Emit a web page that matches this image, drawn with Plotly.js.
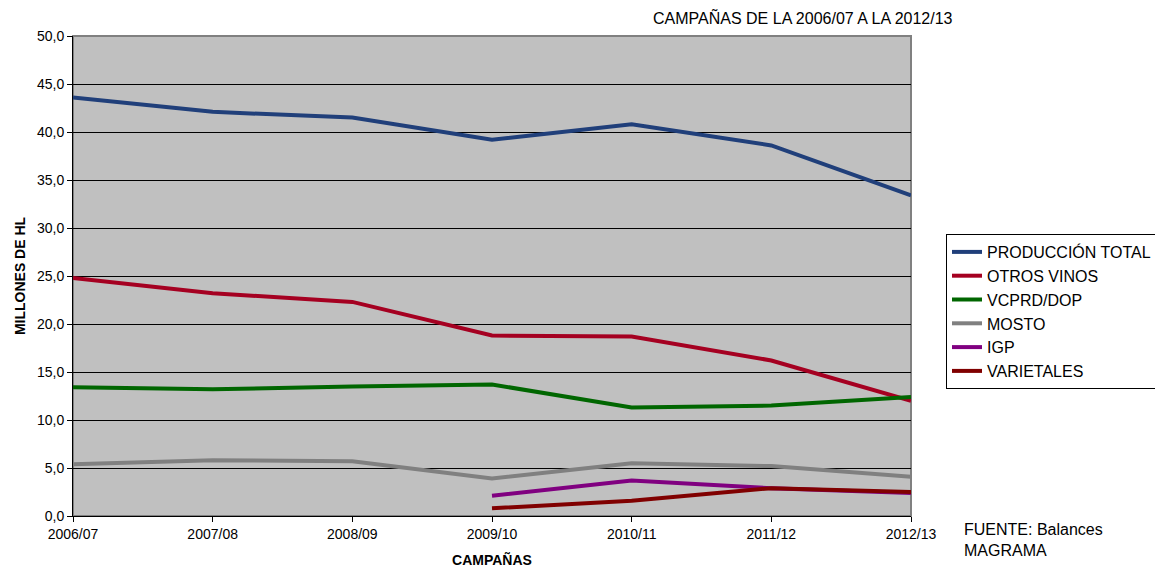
<!DOCTYPE html>
<html>
<head>
<meta charset="utf-8">
<script src="https://cdn.plot.ly/plotly-3.0.1.min.js"></script>
<style>html,body{margin:0;padding:0;background:#fff;}#chart{width:1155px;height:568px;}</style>
</head>
<body>
<div id="chart"></div>
<script>
const campaigns = ["2006/07","2007/08","2008/09","2009/10","2010/11","2011/12","2012/13"];
const produccionTotal = [43.6, 42.1, 41.5, 39.2, 40.8, 38.6, 33.4];
const otrosVinos = [24.8, 23.2, 22.3, 18.8, 18.7, 16.2, 12.0];
const vcprdDop = [13.4, 13.2, 13.5, 13.7, 11.3, 11.5, 12.4];
const mosto = [5.4, 5.8, 5.7, 3.9, 5.5, 5.2, 4.1];
const igp = [null, null, null, 2.1, 3.7, 2.9, 2.4];
const varietales = [null, null, null, 0.8, 1.6, 2.9, 2.5];

const seriesNames = ["PRODUCCIÓN TOTAL","OTROS VINOS","VCPRD/DOP","MOSTO","IGP","VARIETALES"];
const seriesValues = [produccionTotal, otrosVinos, vcprdDop, mosto, igp, varietales];
const seriesColors = ["#203F7A","#A50021","#006600","#808080","#800080","#800000"];

const font = "Liberation Sans, Arial, sans-serif";

const traces = seriesNames.map((n, i) => ({
  type: "scatter",
  mode: "lines",
  name: n,
  x: campaigns,
  y: seriesValues[i],
  line: {color: seriesColors[i], width: 4},
  legendgroup: "g" + i,
  connectgaps: false,
  hoverinfo: "x+y+name"
}));

const layout = {
  width: 1155,
  height: 568,
  margin: {l: 73, r: 244, t: 36, b: 52},
  paper_bgcolor: "#ffffff",
  plot_bgcolor: "#C0C0C0",
  font: {family: font, size: 14, color: "#000"},
  separators: ",.",
  showlegend: true,
  legend: {
    xref: "container", yref: "container",
    x: 946 / 1155, xanchor: "left",
    y: 1 - 234 / 568, yanchor: "top",
    bgcolor: "#ffffff",
    bordercolor: "#000000",
    borderwidth: 1,
    font: {family: font, size: 16, color: "#000"},
    tracegroupgap: 0,
    itemwidth: 30
  },
  xaxis: {
    type: "category",
    range: [0, 6],
    showgrid: false,
    showline: true,
    linecolor: "#000",
    linewidth: 1,
    ticks: "outside",
    ticklen: 5,
    tickcolor: "#000",
    tickfont: {family: font, size: 14, color: "#000"},
    title: {text: "<b>CAMPAÑAS</b>", font: {family: font, size: 14, color: "#000"}, standoff: 15},
    zeroline: false,
    automargin: false,
    fixedrange: true
  },
  yaxis: {
    range: [0, 50],
    dtick: 5,
    tickformat: ".1f",
    showgrid: true,
    gridcolor: "#000",
    gridwidth: 1,
    showline: true,
    linecolor: "#000",
    linewidth: 1,
    ticks: "outside",
    ticklen: 5,
    tickcolor: "#000",
    tickfont: {family: font, size: 14, color: "#000"},
    title: {text: "<b>MILLONES DE HL</b>", font: {family: font, size: 14, color: "#000"}, standoff: 8},
    zeroline: false,
    automargin: false,
    fixedrange: true
  },
  shapes: [{
    type: "rect", xref: "paper", yref: "paper",
    x0: 0, x1: 1, y0: 0, y1: 1,
    line: {color: "#808080", width: 2},
    layer: "below"
  }],
  annotations: [
    {text: "CAMPAÑAS DE LA 2006/07 A LA 2012/13", xref: "paper", yref: "paper",
     x: (651 - 73) / 838, y: 1 + (36 - 18) / 480, xanchor: "left", yanchor: "middle",
     showarrow: false, font: {family: font, size: 16, color: "#000"}},
    {text: "FUENTE: Balances<br>MAGRAMA", xref: "paper", yref: "paper",
     x: (962 - 73) / 838, y: -(519 - 516) / 480, xanchor: "left", yanchor: "top", align: "left",
     showarrow: false, font: {family: font, size: 16, color: "#000"}}
  ]
};

Plotly.newPlot("chart", traces, layout, {displayModeBar: false, staticPlot: true});
</script>
</body>
</html>
